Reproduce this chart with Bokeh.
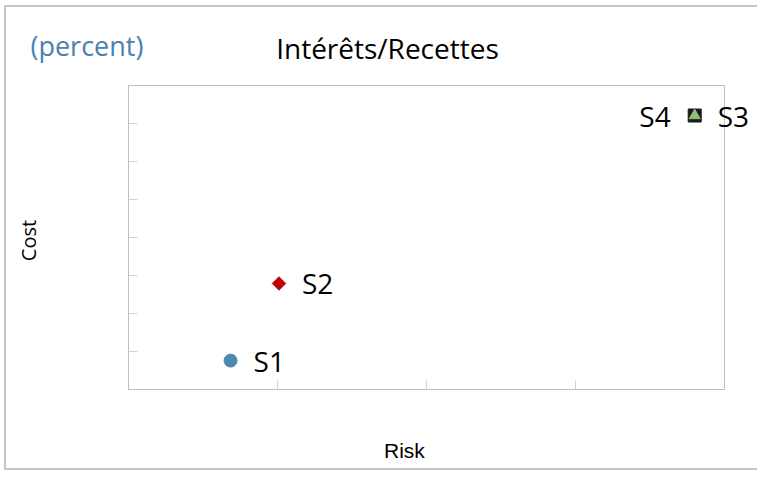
import math
from bokeh.plotting import figure
from bokeh.models import Range1d, Label, FixedTicker
from bokeh.embed import file_html
from bokeh.resources import INLINE

# ---- data ----
names = ["S1", "S2", "S3", "S4"]
risk = [0.685, 1.01, 3.80, 3.80]
cost = [0.76, 2.79, 7.21, 7.21]
label_side = ["right", "right", "right", "left"]
x_ticks = [1, 2, 3]
y_ticks = [1, 2, 3, 4, 5, 6, 7]
title_text = "Intérêts/Recettes"
unit_text = "(percent)"
x_label = "Risk"
y_label = "Cost"

FONT = "Open Sans"
GRAY = "#bfbfbf"
BORDER = "2px solid #c6c6c6"
X_MAX = 4

p = figure(width=753, height=465, output_backend="svg", toolbar_location=None,
           x_range=Range1d(0, X_MAX), y_range=Range1d(0, 8),
           min_border_left=122, min_border_right=35,
           min_border_top=78, min_border_bottom=83)
p.styles = {"border-left": BORDER, "border-top": BORDER, "border-bottom": BORDER,
            "margin-left": "4px", "margin-top": "5px"}
p.grid.visible = False
p.outline_line_color = GRAY
p.outline_line_width = 1
p.background_fill_color = "white"
p.border_fill_color = "white"

for ax in (p.xaxis[0], p.yaxis[0]):
    ax.axis_line_color = GRAY
    ax.major_tick_line_color = "#cfcfcf"
    ax.major_tick_in = 9
    ax.major_tick_out = 0
    ax.minor_tick_line_color = None
    ax.major_label_text_font_size = "0px"
    ax.major_label_text_alpha = 0
p.xaxis[0].ticker = FixedTicker(ticks=x_ticks)
p.yaxis[0].ticker = FixedTicker(ticks=y_ticks)

# markers
p.scatter([risk[0]], [cost[0]], marker="circle", size=13, fill_color="#4d8ab3", line_color="#4d8ab3")
p.scatter([risk[1]], [cost[1]], marker="square", size=9.5, angle=math.pi / 4,
          fill_color="#c00000", line_color="#c00000")
p.scatter([risk[3]], [cost[3]], marker="square", size=13, fill_color="#1a1a1a", line_color="#1a1a1a")
p.scatter([risk[2]], [cost[2]], marker="triangle", size=11, fill_color="#8fbf72", line_color="#8fbf72")

# point labels; a label that runs past the frame edge goes into a side panel so it is not clipped
for xv, yv, t, side in zip(risk, cost, names, label_side):
    lab = Label(x=xv, y=yv, text=t,
                x_offset=23 if side == "right" else -24,
                text_align="left" if side == "right" else "right",
                text_baseline="middle", text_font=FONT, text_font_size="28px",
                text_color="black")
    if side == "right" and xv > X_MAX - 0.5:
        p.add_layout(lab, "left")
    else:
        p.add_layout(lab)

# titles / axis labels
p.add_layout(Label(x=1.738, y=9.0, text=title_text, text_align="center", text_baseline="middle",
                   text_font=FONT, text_font_size="28px", text_color="black"), "above")
p.add_layout(Label(x=-0.658, y=9.05, text=unit_text, text_align="left", text_baseline="middle",
                   text_font=FONT, text_font_size="27px", text_color="#4a80b2"), "above")
p.add_layout(Label(x=-0.671, y=3.92, text=y_label, angle=math.pi / 2, text_align="center",
                   text_baseline="middle", text_font=FONT, text_font_size="20px",
                   text_color="black"), "left")
p.add_layout(Label(x=1.852, y=-1.605, text=x_label, text_align="center", text_baseline="middle",
                   text_font="Liberation Sans", text_font_size="21px",
                   text_color="black"), "below")

open("out.html", "w").write(file_html(p, INLINE))
